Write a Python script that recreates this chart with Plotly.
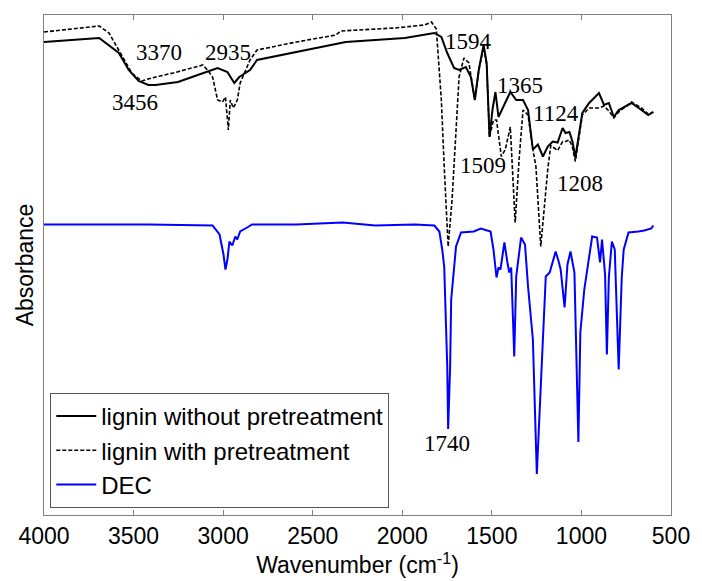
import plotly.graph_objects as go

# ---- data (wavenumber in cm^-1, absorbance in arbitrary offset units) ----
wn_without = [4000, 3692, 3582, 3527, 3472, 3417, 3378, 3252, 3142, 3031, 2976, 2938, 2910, 2850, 2811,
              2591, 2371, 2316, 2151, 1986, 1821, 1782, 1749, 1711, 1683, 1645, 1617, 1595, 1573, 1546,
              1529, 1518, 1513, 1496, 1480, 1463, 1436, 1397, 1364, 1326, 1298, 1271, 1243, 1215, 1188,
              1160, 1133, 1105, 1089, 1067, 1050, 1034, 995, 957, 902, 874, 847, 819, 792, 720, 665, 627, 599]
ab_without = [94.6, 95.4, 92.4, 89.0, 86.8, 86.0, 86.0, 86.6, 88.0, 89.4, 88.6, 86.4, 87.6, 89.0, 91.0,
              92.6, 94.2, 94.6, 95.0, 95.4, 96.4, 95.6, 92.4, 89.4, 89.0, 89.6, 87.6, 83.0, 89.0, 94.0,
              90.4, 80.4, 75.6, 81.2, 84.6, 79.6, 81.6, 84.6, 83.0, 83.0, 81.0, 73.1, 74.1, 71.7, 73.7,
              74.7, 74.5, 77.4, 76.4, 76.6, 74.7, 71.5, 80.4, 82.4, 84.4, 82.0, 82.4, 79.6, 81.0, 82.4, 81.0, 80.0, 80.6]

wn_with = [4000, 3692, 3637, 3582, 3510, 3455, 3400, 3279, 3142, 3114, 3087, 3059, 3031, 3004, 2987,
           2971, 2960, 2943, 2921, 2905, 2850, 2811, 2591, 2371, 2344, 2041, 1876, 1837, 1810, 1782,
           1766, 1744, 1722, 1711, 1683, 1656, 1628, 1595, 1573, 1546, 1529, 1513, 1491, 1474, 1447,
           1425, 1397, 1370, 1348, 1326, 1298, 1271, 1254, 1227, 1205, 1188, 1171, 1133, 1105, 1089,
           1067, 1050, 1034, 995, 957, 902, 874, 847, 819, 792, 720, 665, 627, 599]
ab_with = [96.6, 97.8, 96.4, 93.0, 88.4, 86.8, 87.4, 88.4, 89.8, 90.0, 89.0, 87.6, 83.0, 82.6, 83.6,
           77.0, 83.0, 81.4, 83.0, 86.4, 91.0, 93.0, 94.6, 96.0, 96.8, 97.4, 98.0, 98.6, 97.2, 83.0,
           69.7, 53.7, 63.1, 69.7, 87.6, 91.4, 90.4, 83.0, 89.0, 93.6, 90.0, 75.6, 79.0, 79.0, 71.7,
           73.1, 77.6, 58.5, 71.1, 81.0, 80.0, 73.1, 69.7, 53.7, 63.1, 69.1, 73.9, 72.9, 74.7, 74.7,
           75.0, 73.5, 70.7, 80.0, 81.4, 81.4, 81.8, 80.8, 79.4, 80.6, 82.6, 81.4, 80.2, 80.6]

wn_dec = [4000, 3417, 3059, 3020, 2998, 2987, 2976, 2965, 2949, 2932, 2921, 2905, 2866, 2839, 2591,
          2333, 2151, 1931, 1821, 1793, 1777, 1766, 1749, 1744, 1733, 1727, 1700, 1672, 1601, 1562,
          1507, 1491, 1474, 1463, 1452, 1430, 1414, 1403, 1392, 1375, 1364, 1337, 1315, 1298, 1271,
          1249, 1227, 1199, 1177, 1144, 1127, 1116, 1094, 1078, 1061, 1039, 1017, 1006, 984, 940,
          913, 896, 885, 868, 858, 847, 830, 814, 792, 775, 764, 737, 682, 649, 610, 599]
ab_dec = [58.1, 58.1, 57.9, 56.1, 52.1, 49.1, 51.1, 54.7, 53.9, 55.7, 55.1, 56.7, 57.5, 58.1, 58.1,
          58.5, 57.9, 58.1, 57.9, 56.7, 53.1, 49.7, 29.7, 17.2, 29.7, 43.1, 53.7, 56.5, 56.7, 57.3,
          56.7, 53.1, 47.5, 49.5, 49.1, 54.5, 50.7, 48.5, 49.5, 31.7, 47.7, 55.5, 54.1, 45.7, 35.1,
          8.2, 25.7, 47.7, 48.5, 52.7, 50.7, 49.1, 41.5, 50.1, 52.7, 48.5, 14.6, 36.5, 45.1, 55.7,
          55.5, 50.5, 55.1, 48.1, 32.1, 47.5, 54.7, 53.1, 29.1, 47.5, 53.1, 56.5, 56.7, 56.9, 57.3, 57.9]

series_names = ["lignin without pretreatment", "lignin with pretreatment", "DEC"]

peak_labels = ["3370", "3456", "2935", "1594", "1365", "1124", "1509", "1208", "1740"]
peak_label_x = [3356, 3494, 2971, 1628, 1342, 1144, 1551, 1006, 1749]
peak_label_y = [92.6, 82.6, 92.6, 94.8, 86.0, 80.4, 69.9, 66.3, 14.4]

x_ticks = [4000, 3500, 3000, 2500, 2000, 1500, 1000, 500]

# ---- figure ----
fig = go.Figure()
fig.add_trace(go.Scatter(x=wn_without, y=ab_without, mode="lines", name=series_names[0],
                         line=dict(color="black", width=2)))
fig.add_trace(go.Scatter(x=wn_with, y=ab_with, mode="lines", name=series_names[1],
                         line=dict(color="black", width=1.6, dash="4px,2px")))
fig.add_trace(go.Scatter(x=wn_dec, y=ab_dec, mode="lines", name=series_names[2],
                         line=dict(color="#0000ff", width=2)))

for t, x, y in zip(peak_labels, peak_label_x, peak_label_y):
    fig.add_annotation(x=x, y=y, text=t, showarrow=False,
                       font=dict(family="Liberation Serif", size=23, color="black"))

axis_col = "#808080"
fig.update_layout(
    width=702, height=581,
    margin=dict(l=44, r=22, t=15, b=65),
    paper_bgcolor="white", plot_bgcolor="white",
    font=dict(family="Liberation Sans, Arial", size=23, color="black"),
    showlegend=True,
    legend=dict(x=0.01, y=0.014, xanchor="left", yanchor="bottom",
                bgcolor="white", bordercolor="#555555", borderwidth=1,
                font=dict(family="Liberation Sans, Arial", size=24, color="black"),
                tracegroupgap=0, itemwidth=40),
    xaxis=dict(range=[4000, 500], tickvals=x_ticks, ticks="inside", ticklen=5,
               tickcolor=axis_col, showline=True, linecolor=axis_col, linewidth=1,
               mirror="ticks", showgrid=False, zeroline=False,
               title=dict(text="Wavenumber (cm<sup>-1</sup>)", standoff=4,
                          font=dict(family="Liberation Sans, Arial", size=23))),
    yaxis=dict(range=[0, 100], showticklabels=False, ticks="", showline=True,
               linecolor=axis_col, linewidth=1, mirror=True, showgrid=False, zeroline=False,
               title=dict(text="Absorbance", standoff=2,
                          font=dict(family="Liberation Sans, Arial", size=23))),
)

fig.write_html("out.html")
